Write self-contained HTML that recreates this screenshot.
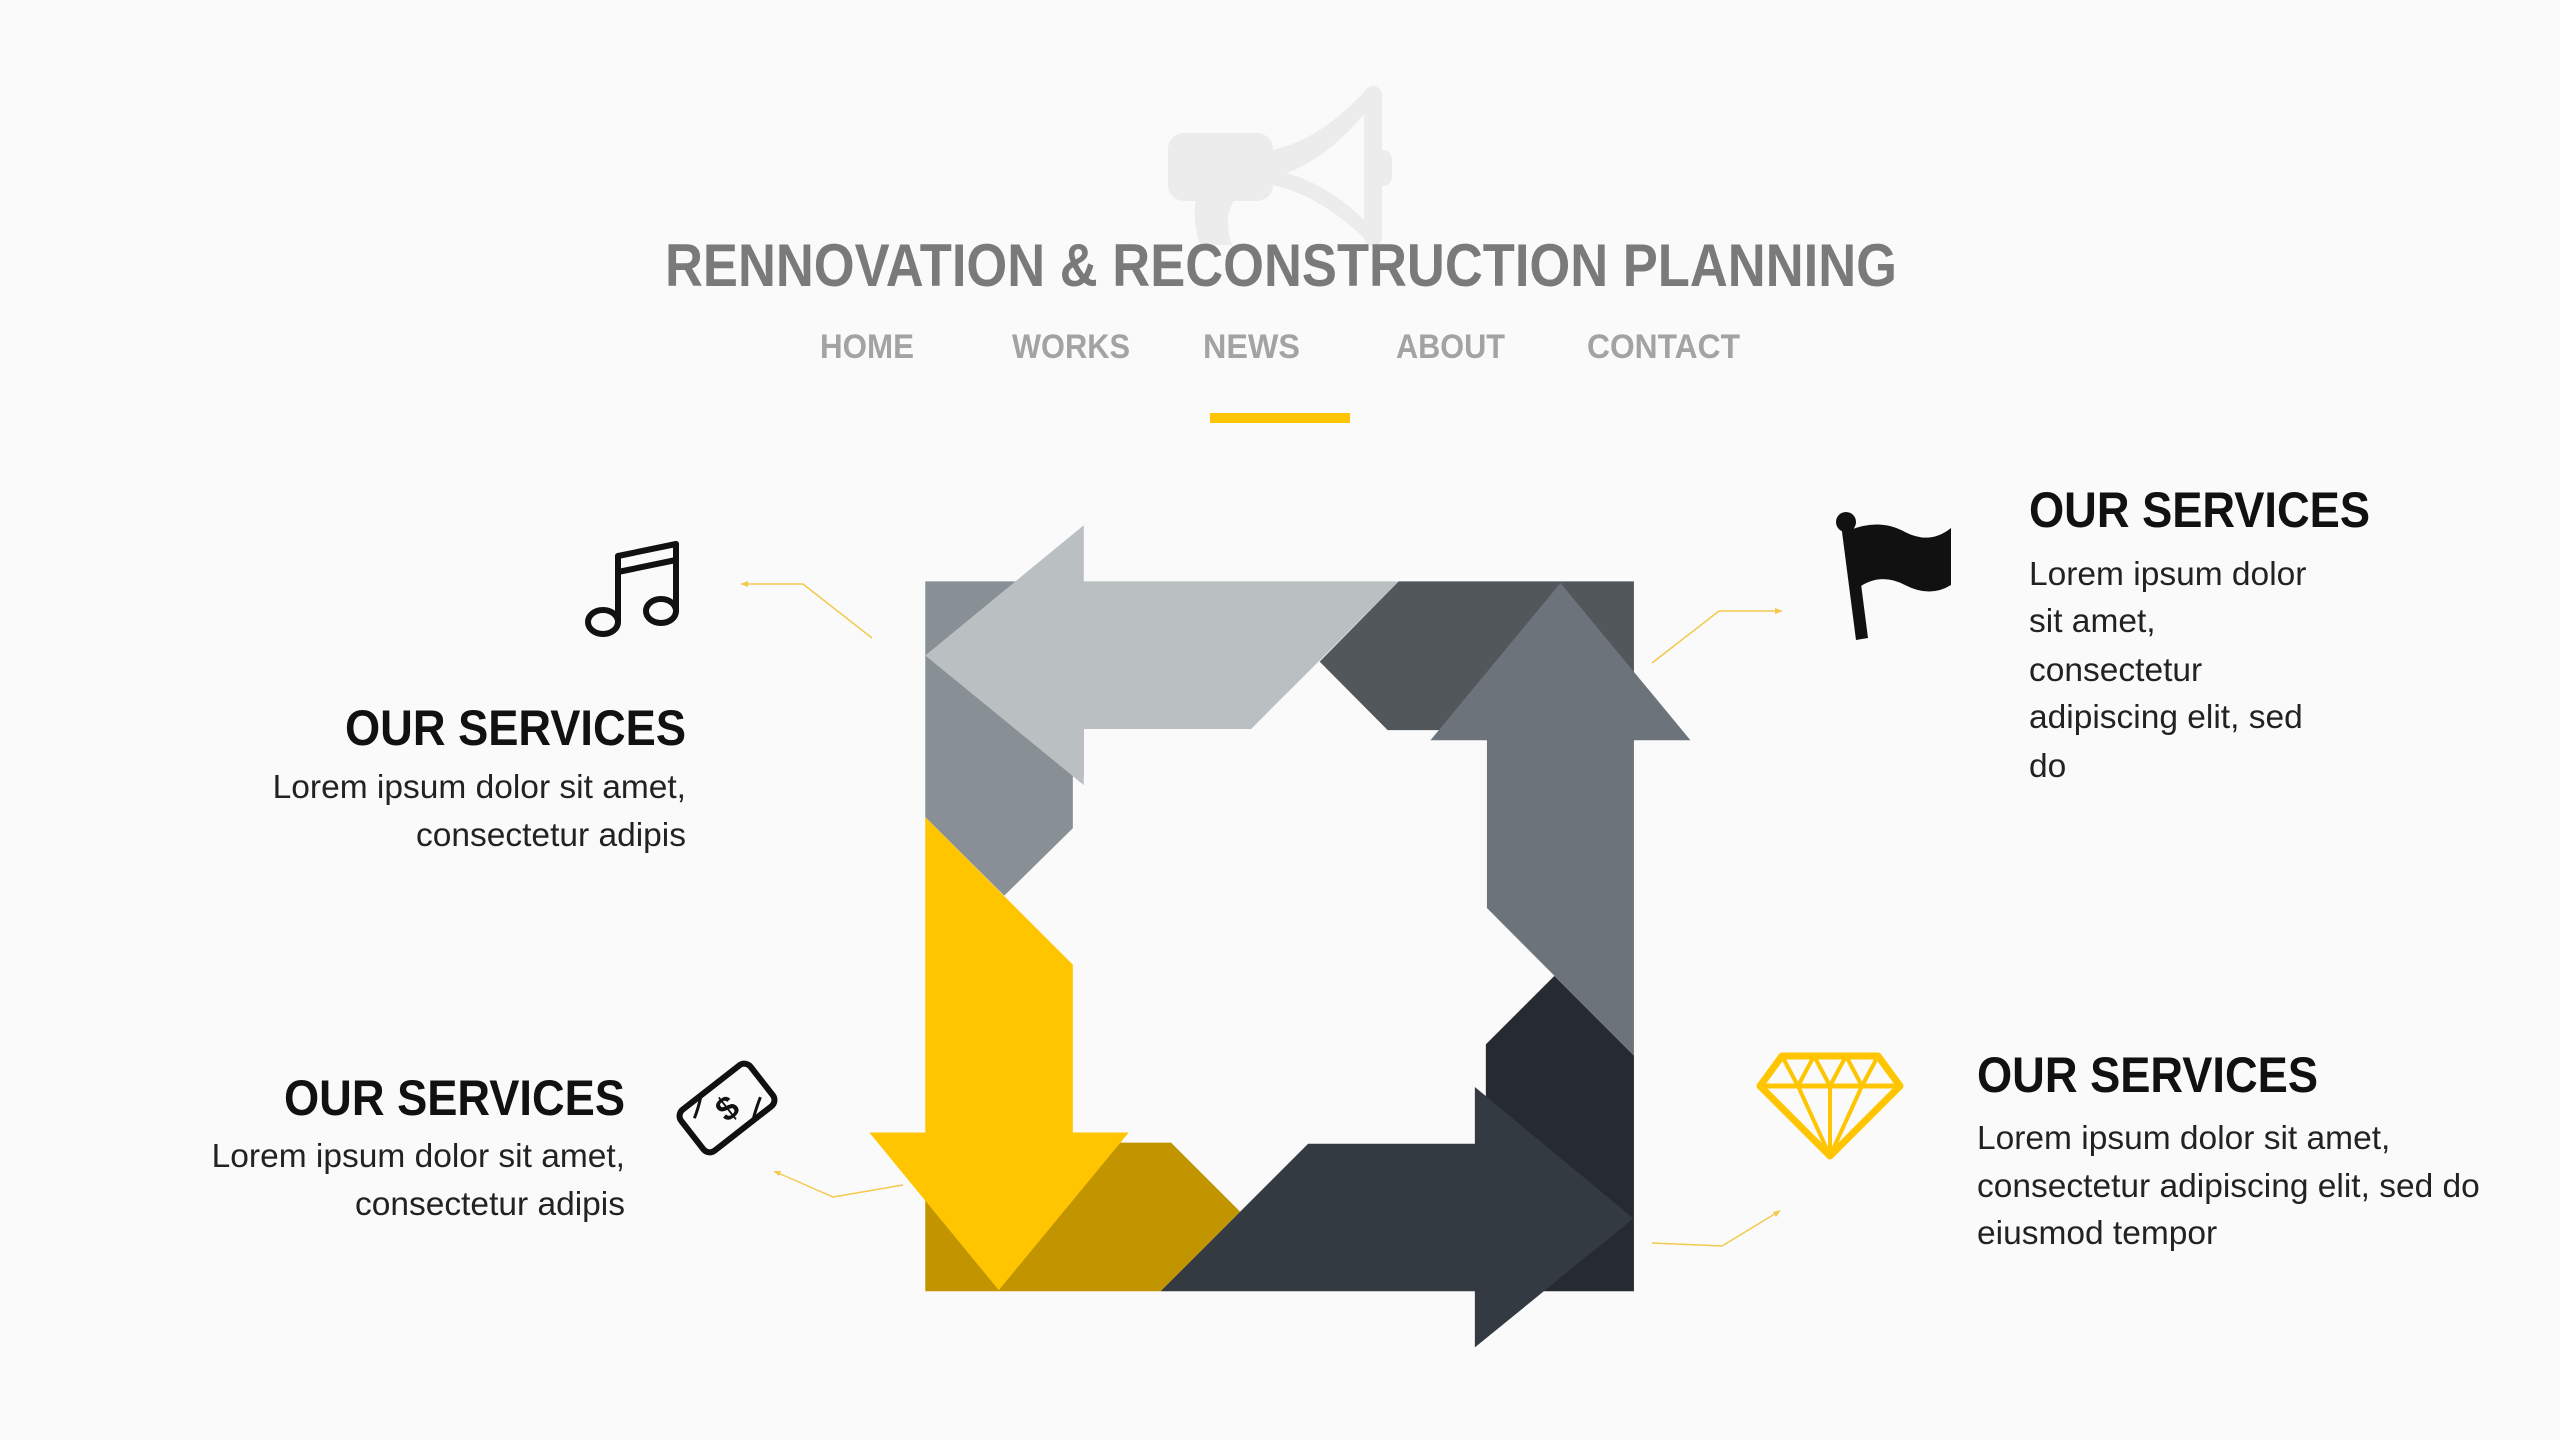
<!DOCTYPE html>
<html><head><meta charset="utf-8"><style>
html,body{margin:0;padding:0;background:#fafafa;}
svg{display:block;}
text{font-family:"Liberation Sans",sans-serif;}
</style></head><body>
<svg width="2560" height="1440" viewBox="0 0 2560 1440" xmlns="http://www.w3.org/2000/svg">
<rect width="2560" height="1440" fill="#fafafa"/>
<g fill="#ececec" stroke="#ececec">
<rect x="1168" y="133" width="105" height="68" rx="16" stroke="none"/>
<path d="M1272 150 Q1320 140 1366 90 L1366 112 Q1322 165 1272 178 Z" stroke="none"/>
<path d="M1272 185 Q1320 195 1366 240 L1366 222 Q1322 178 1272 170 Z" stroke="none"/>
<rect x="1364" y="86" width="18" height="160" rx="9" stroke="none"/>
<rect x="1374" y="150" width="18" height="36" rx="9" stroke="none"/>
<path d="M1196 198 L1236 198 Q1222 215 1232 245 L1200 245 Q1192 220 1196 198 Z" stroke="none"/>
</g>
<text x="665" y="286" font-size="60" font-weight="bold" fill="#7a7a7a" textLength="1232" lengthAdjust="spacingAndGlyphs">RENNOVATION &amp; RECONSTRUCTION PLANNING</text>
<g font-size="34" font-weight="bold" fill="#a3a3a3">
<text x="820" y="358" textLength="94" lengthAdjust="spacingAndGlyphs">HOME</text>
<text x="1012" y="358" textLength="118" lengthAdjust="spacingAndGlyphs">WORKS</text>
<text x="1203" y="358" textLength="97" lengthAdjust="spacingAndGlyphs">NEWS</text>
<text x="1396" y="358" textLength="109" lengthAdjust="spacingAndGlyphs">ABOUT</text>
<text x="1587" y="358" textLength="153" lengthAdjust="spacingAndGlyphs">CONTACT</text>
</g>
<rect x="1210" y="413" width="140" height="10" fill="#ffc500"/>
<g transform="translate(860 500) scale(0.5485 0.5612)">
<polygon fill="#889095" points="119,145 408,145 408,493 388,493 388,585 263,705 119,565"/>
<polygon fill="#52575c" points="982,145 1411,145 1411,430 1143,430 1143,410 962,410 838,288"/>
<polygon fill="#262a31" points="1266,848 1411,990 1411,1410 1141,1410 1141,970"/>
<polygon fill="#c29500" points="119,1145 567,1145 693,1268 548,1410 119,1410"/>
<polygon fill="#babfc1" points="119,277 408,45 408,145 982,145 713,408 408,408 408,508"/>
<polygon fill="#6d737a" points="1277,148 1514,428 1411,428 1411,990 1143,727 1143,428 1040,428"/>
<polygon fill="#333a42" points="1410,1280 1121,1046 1121,1147 817,1147 548,1410 1121,1410 1121,1510"/>
<polygon fill="#ffc500" points="253,1408 17,1127 119,1127 119,565 388,828 388,1127 490,1127"/>
</g>
<g stroke="#f2c94c" stroke-width="1.5" fill="none">
<polyline points="872,638 803,584 743,584"/>
<polyline points="1652,663 1719,611 1780,611"/>
<polyline points="903,1185 833,1197 776,1172"/>
<polyline points="1652,1243 1722,1246 1778,1212"/>
</g>
<g fill="#f2c94c">
<polygon points="740,584 748,581 748,587"/>
<polygon points="1783,611 1775,608 1775,614"/>
<polygon points="773,1171 781,1171 779,1176"/>
<polygon points="1781,1210 1776,1217 1773,1212"/>
</g>
<g fill="#111">
<text x="686" y="745" font-size="50" font-weight="bold" text-anchor="end" textLength="341" lengthAdjust="spacingAndGlyphs">OUR SERVICES</text>
<text x="625" y="1115" font-size="50" font-weight="bold" text-anchor="end" textLength="341" lengthAdjust="spacingAndGlyphs">OUR SERVICES</text>
<text x="2029" y="527" font-size="50" font-weight="bold" textLength="341" lengthAdjust="spacingAndGlyphs">OUR SERVICES</text>
<text x="1977" y="1092" font-size="50" font-weight="bold" textLength="341" lengthAdjust="spacingAndGlyphs">OUR SERVICES</text>
</g>
<g fill="#222" font-size="33.5">
<text x="686" y="798" text-anchor="end">Lorem ipsum dolor sit amet,</text>
<text x="686" y="846" text-anchor="end">consectetur adipis</text>
<text x="625" y="1167" text-anchor="end">Lorem ipsum dolor sit amet,</text>
<text x="625" y="1215" text-anchor="end">consectetur adipis</text>
<text x="2029" y="585">Lorem ipsum dolor</text>
<text x="2029" y="632">sit amet,</text>
<text x="2029" y="681">consectetur</text>
<text x="2029" y="728">adipiscing elit, sed</text>
<text x="2029" y="777">do</text>
<text x="1977" y="1149">Lorem ipsum dolor sit amet,</text>
<text x="1977" y="1197">consectetur adipiscing elit, sed do</text>
<text x="1977" y="1244">eiusmod tempor</text>
</g>
<g stroke="#111" stroke-width="6" fill="none" stroke-linecap="round">
<ellipse cx="603" cy="622" rx="15" ry="12"/>
<ellipse cx="661" cy="611" rx="15" ry="12"/>
<line x1="618" y1="622" x2="618" y2="556"/>
<line x1="676" y1="611" x2="676" y2="544"/>
<line x1="618" y1="556" x2="676" y2="544"/>
<line x1="618" y1="572" x2="676" y2="560"/>
</g>
<g fill="#111">
<circle cx="1846" cy="522" r="10"/>
<path d="M1841 524 L1853 522 L1868 638 L1856 640 Z"/>
<path d="M1850 530 Q1880 518 1905 532 Q1930 545 1951 528 L1951 585 Q1930 598 1905 585 Q1880 572 1858 588 Z"/>
</g>
<g transform="rotate(-38 727 1108)" stroke="#111" stroke-width="6" fill="none">
<rect x="683" y="1082" width="88" height="52" rx="8"/>
<path d="M695 1096 Q705 1090 712 1084" stroke-width="3"/>
<path d="M760 1120 Q750 1126 742 1132" stroke-width="3"/>
</g>
<text x="727" y="1120" font-size="34" font-weight="bold" fill="#111" text-anchor="middle" transform="rotate(-38 727 1108)">$</text>
<g stroke="#ffc500" stroke-width="7" fill="none" stroke-linejoin="round">
<polygon points="1782,1056 1878,1056 1900,1086 1830,1156 1760,1086"/>
<line x1="1760" y1="1086" x2="1900" y2="1086" stroke-width="5"/>
<polyline points="1782,1056 1798,1086 1814,1056 1830,1086 1846,1056 1862,1086 1878,1056" stroke-width="4"/>
<polyline points="1798,1086 1830,1156 1862,1086" stroke-width="4"/>
<line x1="1830" y1="1086" x2="1830" y2="1156" stroke-width="4"/>
</g>
</svg>
</body></html>
